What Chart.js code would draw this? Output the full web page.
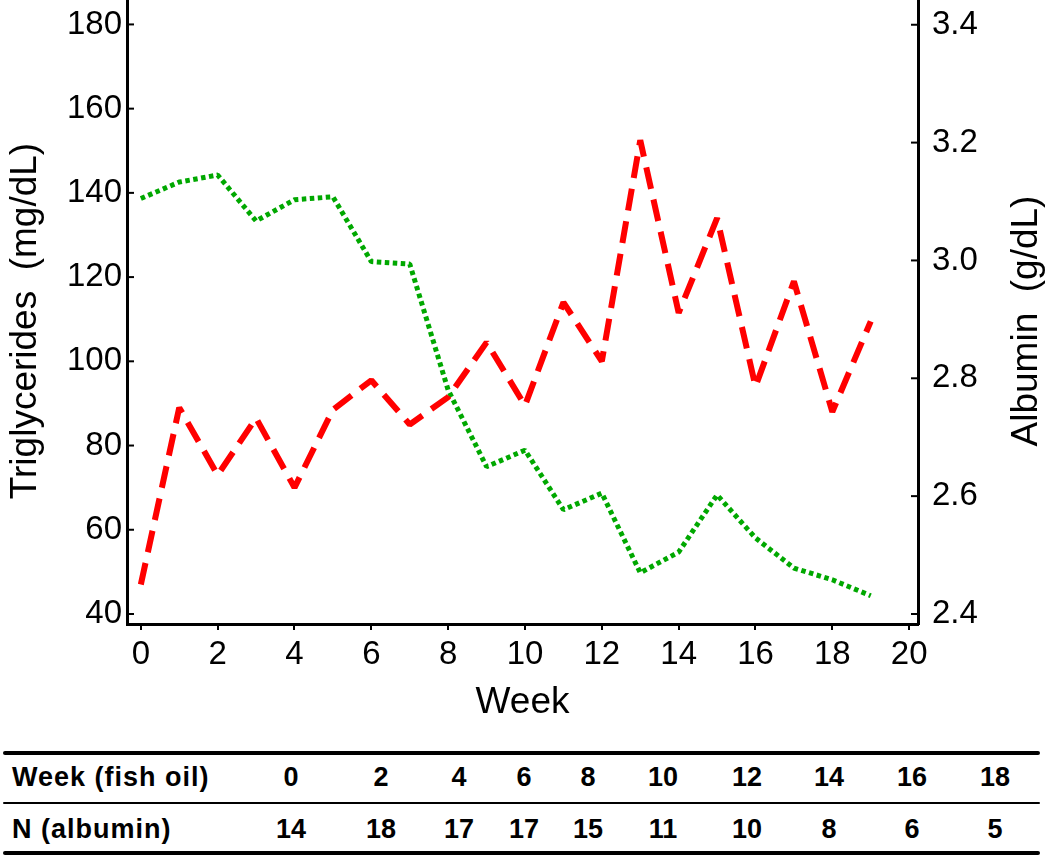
<!DOCTYPE html>
<html>
<head>
<meta charset="utf-8">
<script src="https://cdn.jsdelivr.net/npm/chart.js@4.4.0/dist/chart.umd.min.js"></script>
<style>
  body { margin: 0; background: #fff; width: 1050px; height: 858px; overflow: hidden; position: relative;
         font-family: "Liberation Sans", Arial, Helvetica, sans-serif; }
  #chart { position: absolute; left: 0; top: 0; }
  .rule { position: absolute; left: 3px; width: 1037px; background: #000; border-radius: 2px; }
  .cell { position: absolute; font-weight: bold; font-size: 27px; line-height: 30px; white-space: nowrap;
          transform: translate(-50%, -50%); }
  .rowlabel { position: absolute; left: 12px; font-weight: bold; font-size: 27px; line-height: 30px;
              letter-spacing: 1px; white-space: nowrap; transform: translateY(-50%); }
</style>
</head>
<body>
<canvas id="chart" width="1050" height="740"></canvas>
<div id="table"></div>
<script>
// data
const weeks = [0, 1, 2, 3, 4, 5, 6, 7, 8, 9, 10, 11, 12, 13, 14, 15, 16, 17, 18, 19]
const triglycerides = [47, 89, 73, 86.5, 70, 88.5, 95.5, 85, 91.5, 104.5, 89.5, 114, 100, 152.5, 111.5, 134, 94, 119, 88, 109.5]
const albumin = [3.105, 3.133, 3.145, 3.067, 3.103, 3.108, 2.998, 2.994, 2.780, 2.650, 2.678, 2.577, 2.605, 2.470, 2.505, 2.602, 2.529, 2.478, 2.458, 2.431]

const weekTicks = [0, 2, 4, 6, 8, 10, 12, 14, 16, 18, 20]
const trigTicks = [40, 60, 80, 100, 120, 140, 160, 180]
const albTicks = [2.4, 2.6, 2.8, 3.0, 3.2, 3.4]

const tableWeeks = [0, 2, 4, 6, 8, 10, 12, 14, 16, 18]
const tableN = [14, 18, 17, 17, 15, 11, 10, 8, 6, 5]

// table layout
const tableColX = [291, 381, 459, 524, 588, 663, 747, 829, 912, 995]

const FONT = '"Liberation Sans", Arial, Helvetica, sans-serif'

const toTicks = (list) => (scale) => { scale.ticks = list.map(v => ({ value: v })) }

// y ticks point inward, y titles read bottom to top on both sides
const axisExtras = {
    id: 'axisExtras',
    afterDraw(chart) {
        const { ctx, chartArea } = chart
        ctx.save()
        ctx.strokeStyle = '#000'
        ctx.lineWidth = 2
        for (const id of ['y', 'y2']) {
            const s = chart.scales[id]
            const x0 = id === 'y' ? chartArea.left : chartArea.right
            const dir = id === 'y' ? 1 : -1
            s.ticks.forEach(t => {
                const py = s.getPixelForValue(t.value)
                ctx.beginPath()
                ctx.moveTo(x0, py)
                ctx.lineTo(x0 + dir * 7, py)
                ctx.stroke()
            })
        }
        ctx.fillStyle = '#000'
        ctx.font = `37px ${FONT}`
        ctx.textAlign = 'center'
        ctx.textBaseline = 'middle'
        const midY = (chartArea.top + chartArea.bottom) / 2 + 9
        const titles = [[chartArea.left - 101, 'Triglycerides  (mg/dL)'], [chartArea.right + 109, 'Albumin  (g/dL)']]
        titles.forEach(([tx, text]) => {
            ctx.save()
            ctx.translate(tx, midY)
            ctx.rotate(-Math.PI / 2)
            ctx.fillText(text, 0, 0)
            ctx.restore()
        })
        ctx.restore()
    }
}

const ctx = document.getElementById('chart').getContext('2d')

new Chart(ctx, {
    type: 'line',
    data: {
        datasets: [
            {
                label: 'Triglycerides',
                data: weeks.map((w, i) => ({ x: w, y: triglycerides[i] })),
                yAxisID: 'y',
                borderColor: '#ff0000',
                borderWidth: 6,
                borderDash: [22, 11],
                borderCapStyle: 'butt',
                borderJoinStyle: 'bevel',
                pointRadius: 0,
                tension: 0,
                fill: false
            },
            {
                label: 'Albumin',
                data: weeks.map((w, i) => ({ x: w, y: albumin[i] })),
                yAxisID: 'y2',
                borderColor: '#00a800',
                borderWidth: 5,
                borderDash: [4.5, 3.5],
                borderCapStyle: 'butt',
                borderJoinStyle: 'bevel',
                pointRadius: 0,
                tension: 0,
                fill: false
            }
        ]
    },
    options: {
        responsive: false,
        animation: false,
        devicePixelRatio: 1,
        layout: { padding: 0 },
        plugins: {
            legend: { display: false },
            tooltip: { enabled: false }
        },
        scales: {
            x: {
                type: 'linear',
                position: 'bottom',
                min: -0.36,
                max: 20.23,
                afterBuildTicks: toTicks(weekTicks),
                afterFit: (s) => { s.height = 116; s.paddingLeft = 0; s.paddingRight = 0 },
                grid: { display: true, drawOnChartArea: false, drawTicks: true, tickLength: 6, color: '#000', lineWidth: 2 },
                border: { display: true, color: '#000', width: 3 },
                ticks: { font: { family: FONT, size: 33 }, color: '#000', padding: 5, maxRotation: 0, autoSkip: false },
                title: { display: true, text: 'Week', color: '#000', font: { family: FONT, size: 37 }, padding: { top: 0, bottom: 15 } }
            },
            y: {
                position: 'left',
                min: 37.62,
                max: 185.8,
                afterBuildTicks: toTicks(trigTicks),
                afterFit: (s) => { s.width = 127; s.paddingTop = 0; s.paddingBottom = 0 },
                grid: { display: false, drawTicks: false },
                border: { display: true, color: '#000', width: 3 },
                ticks: { font: { family: FONT, size: 33 }, color: '#000', padding: 5, autoSkip: false }
            },
            y2: {
                position: 'right',
                min: 2.383,
                max: 3.442,
                afterBuildTicks: toTicks(albTicks),
                afterFit: (s) => { s.width = 132; s.paddingTop = 0; s.paddingBottom = 0 },
                grid: { display: false, drawTicks: false },
                border: { display: true, color: '#000', width: 3 },
                ticks: { font: { family: FONT, size: 33 }, color: '#000', padding: 14, autoSkip: false,
                         callback: (v) => Number(v).toFixed(1) }
            }
        }
    },
    plugins: [axisExtras]
})

// table under the chart
const table = document.getElementById('table')
const addRule = (top, h) => {
    const d = document.createElement('div')
    d.className = 'rule'
    d.style.top = top + 'px'
    d.style.height = h + 'px'
    table.appendChild(d)
}
const addRow = (y, label, values) => {
    const l = document.createElement('div')
    l.className = 'rowlabel'
    l.style.top = y + 'px'
    l.textContent = label
    table.appendChild(l)
    values.forEach((v, i) => {
        const c = document.createElement('div')
        c.className = 'cell'
        c.style.left = tableColX[i] + 'px'
        c.style.top = y + 'px'
        c.textContent = v
        table.appendChild(c)
    })
}
addRule(751, 4)
addRow(777, 'Week (fish oil)', tableWeeks)
addRule(802, 2)
addRow(829, 'N (albumin)', tableN)
addRule(851, 4)
</script>
</body>
</html>
